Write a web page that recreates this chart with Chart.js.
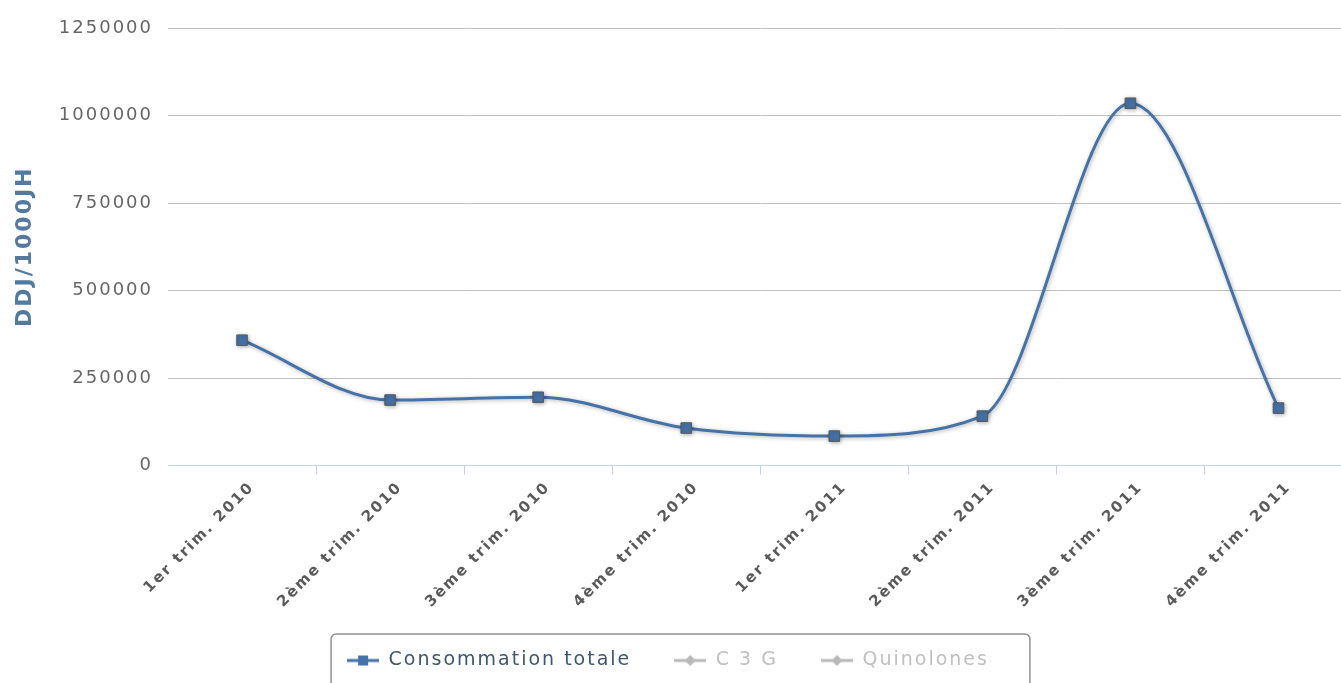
<!DOCTYPE html>
<html>
<head>
<meta charset="utf-8">
<script src="https://cdn.jsdelivr.net/npm/chart.js@4.4.0/dist/chart.umd.min.js"></script>
<style>
    html, body { margin: 0; padding: 0; background: #fff; overflow: hidden; }
    #wrap { position: absolute; left: 0; top: 0; width: 1361px; height: 718px; }
</style>
</head>
<body>
<div id="wrap"><canvas id="lineChart"></canvas></div>
<script>
// Quarters on the x axis
const quarters = ['1er trim. 2010', '2ème trim. 2010', '3ème trim. 2010', '4ème trim. 2010',
                  '1er trim. 2011', '2ème trim. 2011', '3ème trim. 2011', '4ème trim. 2011'];
// DDJ/1000JH per quarter
const totalConsumption = [358000, 187000, 195000, 107000, 84000, 141000, 1035000, 164000];
// Series switched off in the legend: nothing drawn
const c3g = [];
const quinolones = [];
// y axis tick values
const yTicks = [0, 250000, 500000, 750000, 1000000, 1250000];

const FONT = '"DejaVu Sans", Verdana, sans-serif';

// small line + marker image used as legend symbol
function legendSymbol(color, marker) {
    const c = document.createElement('canvas');
    c.width = 32;
    c.height = 14;
    const g = c.getContext('2d');
    g.strokeStyle = color;
    g.lineWidth = 3;
    g.beginPath();
    g.moveTo(0, 7);
    g.lineTo(32, 7);
    g.stroke();
    g.fillStyle = color;
    if (marker === 'square') {
        g.fillRect(11, 2, 10, 10);
    } else {
        g.beginPath();
        g.moveTo(16, 1.5);
        g.lineTo(21.5, 7);
        g.lineTo(16, 12.5);
        g.lineTo(10.5, 7);
        g.closePath();
        g.fill();
    }
    return c;
}

// spaced-out lettering like the original
const spacing = {
    id: 'spacing',
    beforeUpdate(chart) { chart.ctx.letterSpacing = '2px'; },
    beforeDraw(chart) { chart.ctx.letterSpacing = '2px'; }
};

// soft shadow under the line and markers
const lineShadow = {
    id: 'lineShadow',
    beforeDatasetDraw(chart) {
        const c = chart.ctx;
        c.save();
        c.shadowColor = 'rgba(0,0,0,0.3)';
        c.shadowBlur = 4;
        c.shadowOffsetX = 1;
        c.shadowOffsetY = 1;
    },
    afterDatasetDraw(chart) {
        chart.ctx.restore();
    }
};

// fixed legend height and centering of the framed legend
const legendLayout = {
    id: 'legendLayout',
    afterInit(chart) {
        const lg = chart.legend;
        if (!lg) return;
        const fit = lg.fit;
        lg.fit = function () {
            fit.call(this);
            this.height = 110;
        };
    },
    afterLayout(chart) {
        const lg = chart.legend;
        lg.left -= 12.5;
        lg.right -= 12.5;
    },
    afterDraw(chart) {
        const boxes = chart.legend.legendHitBoxes;
        if (!boxes || !boxes.length) return;
        const first = boxes[0];
        const last = boxes[boxes.length - 1];
        const x1 = first.left - 16;
        const x2 = last.left + last.width + 41;
        const y1 = first.top - 17;
        const c = chart.ctx;
        c.save();
        c.strokeStyle = '#909090';
        c.lineWidth = 1.5;
        c.beginPath();
        c.roundRect(x1, y1, x2 - x1, 58, 5);
        c.stroke();
        c.restore();
    }
};

const blueSymbol = legendSymbol('#4572A7', 'square');
const greySymbol = legendSymbol('#b8b8b8', 'diamond');

function createChart() {
    const ctx = document.getElementById('lineChart').getContext('2d');
    new Chart(ctx, {
        type: 'line',
        data: {
            labels: quarters,
            datasets: [
                {
                    label: 'Consommation totale',
                    data: totalConsumption,
                    borderColor: '#4572A7',
                    backgroundColor: '#4572A7',
                    borderWidth: 3,
                    cubicInterpolationMode: 'monotone',
                    fill: false,
                    pointStyle: 'rect',
                    pointRadius: 7.5,
                    pointHoverRadius: 7.5,
                    pointBackgroundColor: '#4572A7',
                    pointBorderColor: '#5a5a5a',
                    pointBorderWidth: 1
                },
                {
                    label: 'C 3 G',
                    data: c3g,
                    borderColor: '#AA4643',
                    hidden: true
                },
                {
                    label: 'Quinolones',
                    data: quinolones,
                    borderColor: '#89A54E',
                    hidden: true
                }
            ]
        },
        options: {
            responsive: true,
            maintainAspectRatio: false,
            animation: false,
            layout: { padding: { top: 28, right: 0, bottom: 0, left: 0 } },
            scales: {
                x: {
                    offset: true,
                    grid: {
                        offset: true,
                        drawOnChartArea: false,
                        drawTicks: true,
                        tickLength: 9,
                        color: ctx => ctx.index === 0 ? 'rgba(0,0,0,0)' : '#C0D0E0'
                    },
                    border: { display: true, color: '#C0D0E0', width: 1 },
                    ticks: {
                        autoSkip: false,
                        minRotation: 45,
                        maxRotation: 45,
                        padding: 4,
                        labelOffset: 10,
                        color: '#5a5a5a',
                        font: { family: FONT, size: 15, weight: 'bold' }
                    },
                    afterFit(scale) { scale.height = 142.5; }
                },
                y: {
                    min: 0,
                    max: 1250000,
                    afterBuildTicks(scale) {
                        scale.ticks = yTicks.map(v => ({ value: v }));
                    },
                    grid: {
                        drawTicks: false,
                        lineWidth: 1,
                        color: ctx => ctx.tick && ctx.tick.value === 0 ? '#C0D0E0' : '#C0C0C0'
                    },
                    border: { display: false },
                    ticks: {
                        padding: 15,
                        color: '#666666',
                        font: { family: FONT, size: 18 },
                        callback: v => String(v)
                    },
                    title: {
                        display: true,
                        text: 'DDJ/1000JH',
                        color: '#52799F',
                        font: { family: FONT, size: 22, weight: 'bold' },
                        padding: { top: 12, bottom: 0 }
                    },
                    afterFit(scale) { scale.width = 168; }
                }
            },
            plugins: {
                legend: {
                    position: 'bottom',
                    labels: {
                        usePointStyle: true,
                        pointStyleWidth: 32,
                        padding: 43,
                        font: { family: FONT, size: 19 },
                        generateLabels(chart) {
                            return chart.data.datasets.map((ds, i) => ({
                                text: ds.label,
                                datasetIndex: i,
                                hidden: false,
                                fontColor: ds.hidden ? '#c0c0c0' : '#3E576F',
                                pointStyle: ds.hidden ? greySymbol : blueSymbol,
                                lineWidth: 0,
                                fillStyle: 'rgba(0,0,0,0)',
                                strokeStyle: 'rgba(0,0,0,0)'
                            }));
                        }
                    }
                },
                tooltip: { enabled: false }
            }
        },
        plugins: [spacing, lineShadow, legendLayout]
    });
}

createChart();
</script>
</body>
</html>
